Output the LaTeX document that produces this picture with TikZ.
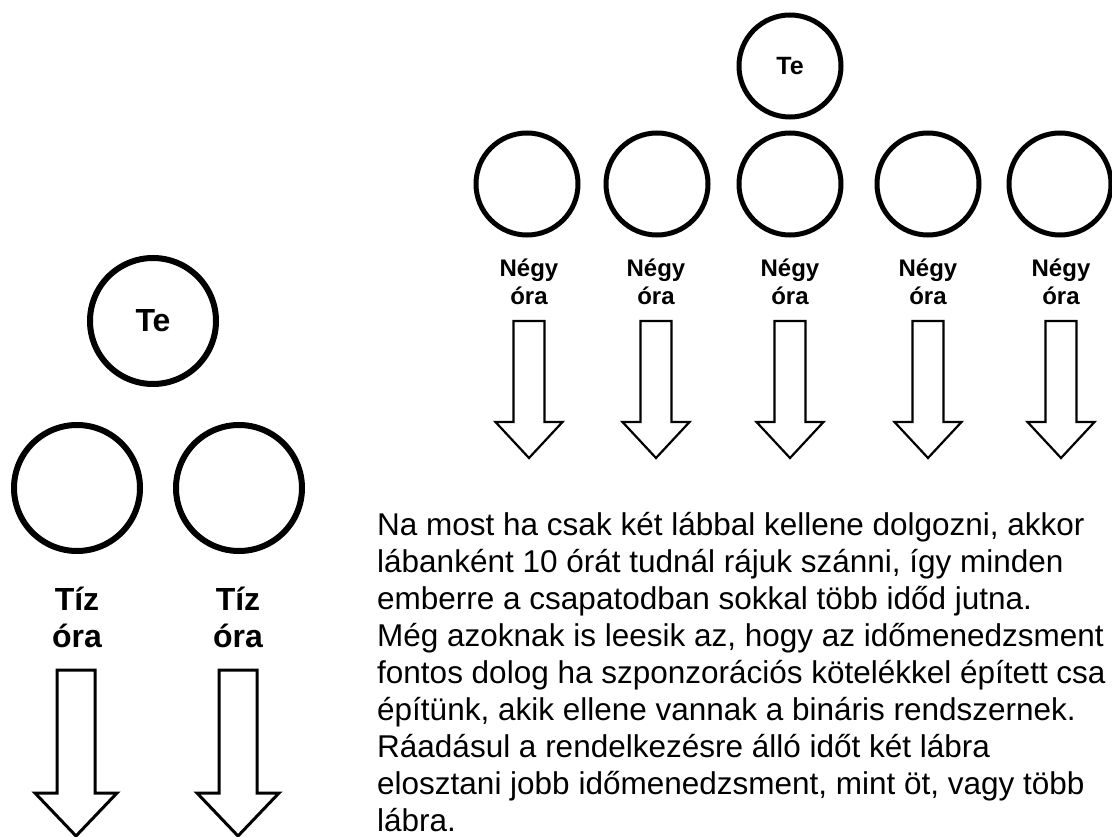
\documentclass[tikz,border=0pt]{standalone}
\usepackage{fontspec}
\setmainfont{Liberation Sans}
\usetikzlibrary{backgrounds}

\tikzset{
  ring/.style={circle, draw=black, inner sep=0pt, line width=5pt},
  bigring/.style={ring, minimum size=126pt, line width=6pt, font=\fontsize{32}{37}\selectfont\bfseries},
  smallring/.style={ring, minimum size=102pt, line width=5pt, font=\fontsize{25}{28}\selectfont\bfseries},
  biglabel/.style={anchor=base, inner sep=0pt, font=\fontsize{32}{37}\selectfont\bfseries},
  smalllabel/.style={anchor=base, inner sep=0pt, font=\fontsize{24}{28}\selectfont\bfseries},
  ringshadow/.style={draw=black!40, line width=6pt, opacity=0.7},
  arrowline/.style={draw=black, fill=white, line join=miter},
  pics/blockarrow/.style n args={4}{code={
    % shaft half width, head half width, head start, tip
    \path[arrowline] (-#1,0) -- (#1,0) -- (#1,#3) -- (#2,#3) -- (0,#4)
      -- (-#2,#3) -- (-#1,#3) -- cycle;
  }}
}

\begin{document}
\begin{tikzpicture}[x=1pt, y=-1pt]
  \fill[white] (0,0) rectangle (1112,837);
  \clip (0,0) rectangle (1112,837);

  % ---- two legs ----
  \node[bigring] (teL) at (153,321) {Te};
  \node[bigring] (legA) at (77,488) {};
  \node[bigring] (legB) at (239,488) {};

  \node[biglabel] (labA) at (77,610) {\begin{tabular}[t]{@{}c@{}}Tíz\\óra\end{tabular}};
  \node[biglabel] (labB) at (238,610) {\begin{tabular}[t]{@{}c@{}}Tíz\\óra\end{tabular}};

  \coordinate (arrA) at (76,670);
  \coordinate (arrB) at (238,670);
  \pic[line width=3pt] at (arrA) {blockarrow={19}{41}{123}{166}};
  \pic[line width=3pt] at (arrB) {blockarrow={19}{41}{123}{166}};

  % ---- five legs ----
  \node[smallring] (teR) at (790,66) {Te};
  \foreach \i/\x in {1/527, 2/657, 3/790, 4/928, 5/1060} {
    \node[smallring] (leg\i) at (\x,184) {};
  }
  \foreach \i/\x in {1/529, 2/656, 3/790, 4/928, 5/1061} {
    \node[smalllabel] (lab\i) at (\x,277) {\begin{tabular}[t]{@{}c@{}}Négy\\óra\end{tabular}};
    \coordinate (arr\i) at (\x,321);
    \pic[line width=2.2pt] at (arr\i) {blockarrow={15.5}{33.5}{101}{137}};
  }

  % soft shadows behind the rings
  \begin{scope}[on background layer]
    \foreach \n in {teL, legA, legB} {
      \draw[ringshadow] ([shift={(2.5pt,-2.5pt)}]\n.center) circle[radius=63pt];
    }
    \foreach \n in {teR, leg1, leg2, leg3, leg4, leg5} {
      \draw[ringshadow] ([shift={(2.5pt,-2.5pt)}]\n.center) circle[radius=51pt];
    }
  \end{scope}

  % ---- explanation ----
  \node[anchor=base west, inner sep=0pt, font=\fontsize{31.5}{37}\selectfont] (note) at (377,535)
  {\begin{tabular}[t]{@{}l@{}}
    Na most ha csak két lábbal kellene dolgozni, akkor\\
    lábanként 10 órát tudnál rájuk szánni, így minden\\
    emberre a csapatodban sokkal több időd jutna.\\
    Még azoknak is leesik az, hogy az időmenedzsment\\
    fontos dolog ha szponzorációs kötelékkel épített csa\\
    építünk, akik ellene vannak a bináris rendszernek.\\
    Ráadásul a rendelkezésre álló időt két lábra\\
    elosztani jobb időmenedzsment, mint öt, vagy több\\
    lábra.
  \end{tabular}};
\end{tikzpicture}
\end{document}
